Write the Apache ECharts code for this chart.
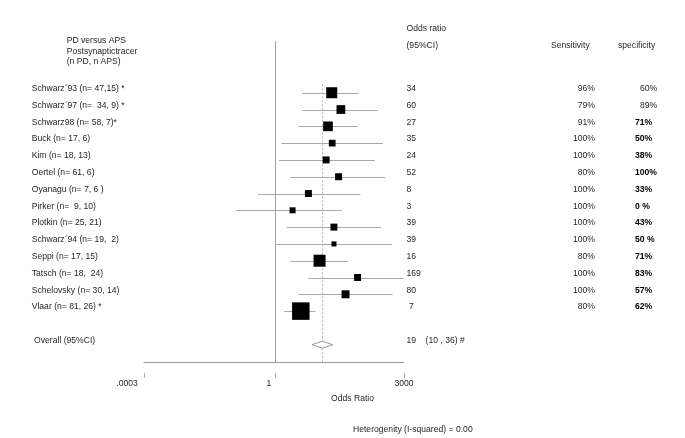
<!DOCTYPE html>
<html>
<head>
<meta charset="utf-8">
<script src="https://cdn.jsdelivr.net/npm/echarts@6/dist/echarts.min.js"></script>
<style>
  html, body { margin: 0; padding: 0; background: #fff; }
  #chart { width: 685px; height: 438px; }
</style>
</head>
<body>
<div id="chart"></div>
<script>
const studyNames = [
  'Schwarz´93 (n= 47,15) *', 'Schwarz´97 (n=  34, 9) *', 'Schwarz98 (n= 58, 7)*',
  'Buck (n= 17, 6)', 'Kim (n= 18, 13)', 'Oertel (n= 61, 6)', 'Oyanagu (n= 7, 6 )',
  'Pirker (n=  9, 10)', 'Plotkin (n= 25, 21)', 'Schwarz´94 (n= 19,  2)', 'Seppi (n= 17, 15)',
  'Tatsch (n= 18,  24)', 'Schelovsky (n= 30, 14)', 'Vlaar (n= 81, 26) *'
]
const oddsRatio = [34, 60, 27, 35, 24, 52, 8, 3, 39, 39, 16, 169, 80, 5]
const ciLow = [5.5, 5.5, 4.3, 1.5, 1.3, 2.6, 0.35, 0.09, 2.1, 1.1, 2.6, 8.2, 4.3, 1.8]
const ciHigh = [180, 580, 170, 810, 490, 940, 200, 64, 720, 1420, 95, 2900, 1480, 12.3]
// study weight in percent (box area)
const weights = [10.5, 6.6, 8.1, 3.9, 4.2, 4.2, 4.2, 3.1, 4.2, 2.2, 12.5, 4.2, 5.5, 26.5]
const orText = ['34', '60', '27', '35', '24', '52', '8', '3', '39', '39', '16', '169', '80', ' 7']
const sensitivity = ['96%', '79%', '91%', '100%', '100%', '80%', '100%', '100%', '100%', '100%', '80%', '100%', '100%', '80%']
const specificity = ['60%', '89%', '71%', '50%', '38%', '100%', '33%', '0 %', '43%', '50 %', '71%', '83%', '57%', '62%']
const specBold = [false, false, true, true, true, true, true, true, true, true, true, true, true, true]

const overallName = ' Overall (95%CI)'
const overallOR = 19
const overallCI = [10, 36]
const overallText = '19    (10 , 36) #'

const xTicks = [0.0003, 1, 3000]
const xMin = 0.0003
const xMax = 3000

const overallRow = 15
const rows = studyNames.map((n, i) => i).concat([overallRow])

const FONT = "'Liberation Sans', Arial, sans-serif"
const FS = 8.6
const TXT = '#262626'
const yMin = -3.08
const yMax = 16.03
const textShift = 0.24

function rowText (list, overall) {
  return v => {
    const r = Math.round(v)
    if (r === overallRow) return overall
    return list[r] !== undefined ? list[r] : ''
  }
}

function textAxis (position, margin, align, formatter, extra) {
  return {
    type: 'value',
    position: position,
    offset: 0,
    min: yMin + textShift,
    max: yMax + textShift,
    inverse: true,
    axisLine: { show: false },
    axisTick: { show: false },
    splitLine: { show: false },
    axisLabel: Object.assign({
      customValues: rows,
      margin: margin,
      align: align,
      color: TXT,
      fontSize: FS,
      fontFamily: FONT,
      formatter: formatter
    }, extra || {})
  }
}

function titleText (text, left, top, extra) {
  return {
    text: text,
    left: left,
    top: top,
    padding: 0,
    textStyle: Object.assign({ fontSize: FS, fontFamily: FONT, fontWeight: 'normal', color: TXT, lineHeight: 10.3 }, extra || {})
  }
}

const chart = echarts.init(document.getElementById('chart'))

const option = {
  animation: false,
  backgroundColor: '#fff',
  title: [
    titleText('PD versus APS\nPostsynaptictracer\n(n PD, n APS)', 66.7, 35.9),
    titleText('Odds ratio', 406.5, 23.9),
    titleText('(95%CI)', 406.5, 40.6),
    titleText('Sensitivity', 551, 40.6),
    titleText('specificity', 618, 40.6),
    titleText('Odds Ratio', 331, 393.9),
    titleText('Heterogenity (I-squared) = 0.00', 353, 424.9)
  ],
  grid: { left: 144, right: 281, top: 41, bottom: 76, containLabel: false },
  xAxis: [
    {
      type: 'log',
      logBase: 10,
      min: xMin,
      max: xMax,
      position: 'bottom',
      axisLine: { show: true, onZero: false, lineStyle: { color: '#9a9a9a', width: 1 } },
      axisTick: { show: false },
      axisLabel: { show: false },
      splitLine: { show: false }
    },
    {
      type: 'log',
      logBase: 10,
      min: xMin,
      max: xMax,
      position: 'bottom',
      offset: 11,
      axisLine: { show: false, onZero: false },
      axisTick: { show: true, length: 5, customValues: xTicks, lineStyle: { color: '#b0b0b0' } },
      axisLabel: {
        customValues: xTicks,
        margin: 6,
        fontSize: FS,
        fontFamily: FONT,
        color: TXT,
        formatter: v => {
          if (v < 0.001) return '{a|.0003}'
          if (v < 10) return '{b|1}'
          return '{c|3000}'
        },
        rich: {
          a: { fontSize: FS, fontFamily: FONT, color: TXT, padding: [0, 34, 0, 0] },
          b: { fontSize: FS, fontFamily: FONT, color: TXT, padding: [0, 12, 0, 0] },
          c: { fontSize: FS, fontFamily: FONT, color: TXT }
        }
      },
      splitLine: { show: false }
    }
  ],
  yAxis: [
    {
      type: 'value',
      show: false,
      min: yMin,
      max: yMax,
      inverse: true,
      splitLine: { show: false }
    },
    textAxis('left', 112.3, 'left', rowText(studyNames, overallName)),
    textAxis('right', 2.5, 'left', rowText(orText, overallText)),
    textAxis('right', 191, 'right', rowText(sensitivity, '')),
    textAxis('right', 231, 'left', v => {
      const r = Math.round(v)
      if (r === overallRow || specificity[r] === undefined) return ''
      return specBold[r] ? '{b|' + specificity[r] + '}' : '{n|' + specificity[r] + '}'
    }, {
      rich: {
        b: { fontSize: FS, fontFamily: FONT, fontWeight: 'bold', color: '#000' },
        n: { fontSize: FS, fontFamily: FONT, color: TXT, padding: [0, 0, 0, 5] }
      }
    })
  ],
  series: [
    {
      name: 'ci',
      type: 'custom',
      xAxisIndex: 0,
      yAxisIndex: 0,
      dimensions: ['lo', 'hi', 'row'],
      encode: { x: [0, 1], y: 2 },
      data: studyNames.map((n, i) => [ciLow[i], ciHigh[i], i]),
      renderItem: (params, api) => {
        const a = api.coord([api.value(0), api.value(2)])
        const b = api.coord([api.value(1), api.value(2)])
        const y = Math.round(a[1]) + 0.5
        return {
          type: 'line',
          shape: { x1: a[0], y1: y, x2: b[0], y2: y },
          style: { stroke: '#a8a8a8', lineWidth: 1 }
        }
      },
      markLine: {
        silent: true,
        symbol: 'none',
        label: { show: false },
        data: [
          [
            { coord: [1, yMin], lineStyle: { color: '#a0a0a0', width: 1, type: 'solid' } },
            { coord: [1, yMax] }
          ],
          [
            { coord: [overallOR, -0.5], lineStyle: { color: '#b4b4b4', width: 1, type: [2, 2] } },
            { coord: [overallOR, yMax] }
          ]
        ]
      }
    },
    {
      name: 'studies',
      type: 'scatter',
      xAxisIndex: 0,
      yAxisIndex: 0,
      symbol: 'rect',
      symbolSize: v => 3.4 * Math.sqrt(v[2]),
      itemStyle: { color: '#000', opacity: 1 },
      data: studyNames.map((n, i) => [oddsRatio[i], i, weights[i]]),
      z: 5
    },
    {
      name: 'overall',
      type: 'custom',
      xAxisIndex: 0,
      yAxisIndex: 0,
      dimensions: ['lo', 'or', 'hi', 'row'],
      encode: { x: [0, 1, 2], y: 3 },
      data: [[overallCI[0], overallOR, overallCI[1], overallRow]],
      renderItem: (params, api) => {
        const r = api.value(3)
        const l = api.coord([api.value(0), r])
        const p = api.coord([api.value(1), r])
        const h = api.coord([api.value(2), r])
        return {
          type: 'polygon',
          shape: { points: [[l[0], l[1]], [p[0], p[1] - 3.5], [h[0], h[1]], [p[0], p[1] + 3.5]] },
          style: { fill: '#fff', stroke: '#9a9a9a', lineWidth: 1 }
        }
      },
      z: 6
    }
  ]
}

chart.setOption(option)
</script>
</body>
</html>
